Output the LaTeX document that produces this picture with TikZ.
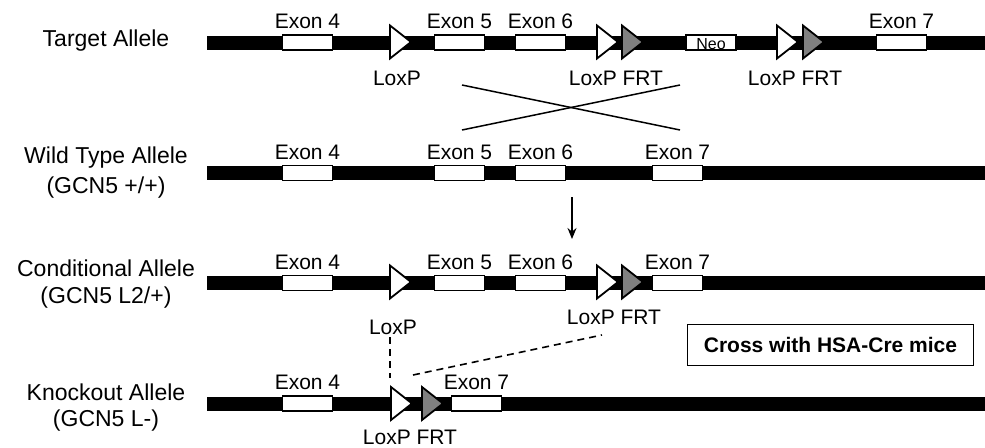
\documentclass[tikz,border=0pt]{standalone}
\usepackage{fontspec}
\setmainfont{Liberation Sans}
\usetikzlibrary{arrows.meta}
\definecolor{frtgray}{RGB}{128,128,128}
\newcommand\mytri[4]{%
  \coordinate (#3) at (#1,#2);
  \draw[line width=1.8pt, line join=miter, fill=#4, shift={(#1,#2)}] (0,-16.5) -- (21,0) -- (0,16.5) -- cycle;}
\begin{document}
\begin{tikzpicture}[x=1pt,y=-1pt,
  bar/.style={line width=14pt, black},
  exon/.style={draw, fill=white, line width=1.3pt, minimum width=50pt, minimum height=15pt, inner sep=0pt},
  lbl/.style={font=\fontsize{21}{24}\selectfont, inner sep=0pt},
  allele/.style={font=\fontsize{23}{28}\selectfont, inner sep=0pt},
  thin/.style={line width=1.5pt},
  dsh/.style={line width=1.6pt, dash pattern=on 7pt off 5pt}]
\useasboundingbox (0,0) rectangle (985,447);

% ---------- Target allele ----------
\node[allele] (tA) at (106,41) {Target Allele};
\coordinate (tbS) at (207,42.5); \coordinate (tbE) at (985,42.5);
\draw[bar] (tbS) -- (tbE);
\mytri{390}{42}{tL1}{white}
\mytri{597}{42}{tL2}{white}
\mytri{622}{42}{tF2}{frtgray}
\mytri{777}{42}{tL3}{white}
\mytri{803}{42}{tF3}{frtgray}
\node[exon] (tE4) at (307.5,42.5) {};
\node[exon] (tE5) at (459.5,42.5) {};
\node[exon] (tE6) at (540.5,42.5) {};
\node[exon] (tNeo) at (711,42.5) {};
\node[font=\fontsize{16}{16}\selectfont, inner sep=0pt] (tNeoT) at (711,44) {Neo};
\node[exon] (tE7) at (901.5,42.5) {};
\node[lbl] (tE4l) at (307.5,21.5) {Exon 4};
\node[lbl] (tE5l) at (459.5,21.5) {Exon 5};
\node[lbl] (tE6l) at (540.5,21.5) {Exon 6};
\node[lbl] (tE7l) at (901.5,21.5) {Exon 7};
\node[lbl] (tLl) at (397,78) {LoxP};
\node[lbl] (tLF2) at (616,78) {LoxP FRT};
\node[lbl] (tLF3) at (795,78) {LoxP FRT};

% ---------- crossing ----------
\coordinate (c1) at (462,85); \coordinate (c2) at (680,130);
\coordinate (c3) at (462,130); \coordinate (c4) at (680,85);
\draw[thin] (c1) -- (c2);
\draw[thin] (c3) -- (c4);

% ---------- Wild type allele ----------
\node[allele] (wA1) at (106,158) {Wild Type Allele};
\node[allele] (wA2) at (106,188) {(GCN5 +/+)};
\coordinate (wbS) at (207,173); \coordinate (wbE) at (985,173);
\draw[bar] (wbS) -- (wbE);
\node[exon] (wE4) at (307.5,173) {};
\node[exon] (wE5) at (459.5,173) {};
\node[exon] (wE6) at (540.5,173) {};
\node[exon] (wE7) at (677.5,173) {};
\node[lbl] (wE4l) at (307.5,152) {Exon 4};
\node[lbl] (wE5l) at (459.5,152) {Exon 5};
\node[lbl] (wE6l) at (540.5,152) {Exon 6};
\node[lbl] (wE7l) at (677.5,152) {Exon 7};

% ---------- arrow ----------
\coordinate (a1) at (572,197); \coordinate (a2) at (572,239);
\draw[thin, -{Stealth[length=11pt, width=9pt]}] (a1) -- (a2);

% ---------- Conditional allele ----------
\node[allele] (cA1) at (106,268) {Conditional Allele};
\node[allele] (cA2) at (106,298) {(GCN5 L2/+)};
\coordinate (cbS) at (207,283); \coordinate (cbE) at (985,283);
\draw[bar] (cbS) -- (cbE);
\mytri{390}{282}{cL1}{white}
\mytri{597}{282}{cL2}{white}
\mytri{622}{282}{cF2}{frtgray}
\node[exon] (cE4) at (307.5,283) {};
\node[exon] (cE5) at (459.5,283) {};
\node[exon] (cE6) at (540.5,283) {};
\node[exon] (cE7) at (677.5,283) {};
\node[lbl] (cE4l) at (307.5,262) {Exon 4};
\node[lbl] (cE5l) at (459.5,262) {Exon 5};
\node[lbl] (cE6l) at (540.5,262) {Exon 6};
\node[lbl] (cE7l) at (677.5,262) {Exon 7};
\node[lbl] (cLl) at (393,327) {LoxP};
\node[lbl] (cLF) at (614,317) {LoxP FRT};

% ---------- box ----------
\node[draw, line width=1.5pt, minimum width=286pt, minimum height=41pt, inner sep=0pt,
  font=\fontsize{21}{24}\selectfont\bfseries] (cross) at (830.5,345) {Cross with HSA-Cre mice};

% ---------- Knockout allele ----------
\node[allele] (kA1) at (106,392) {Knockout Allele};
\node[allele] (kA2) at (106,421) {(GCN5 L-)};
\coordinate (kbS) at (207,403.5); \coordinate (kbE) at (985,403.5);
\draw[bar] (kbS) -- (kbE);
\mytri{391}{403.5}{kL}{white}
\mytri{422}{403.5}{kF}{frtgray}
\node[exon] (kE4) at (307.5,403.5) {};
\node[exon] (kE7) at (476.5,403.5) {};
\node[lbl] (kE4l) at (307.5,382.5) {Exon 4};
\node[lbl] (kE7l) at (476.5,382.5) {Exon 7};
\node[lbl] (kLF) at (410,437) {LoxP FRT};

% ---------- dashed links ----------
\coordinate (d1) at (390,337); \coordinate (d2) at (390,378);
\coordinate (d3) at (413,375); \coordinate (d4) at (602,335);
\draw[dsh] (d1) -- (d2);
\draw[dsh] (d3) -- (d4);
\end{tikzpicture}
\end{document}
